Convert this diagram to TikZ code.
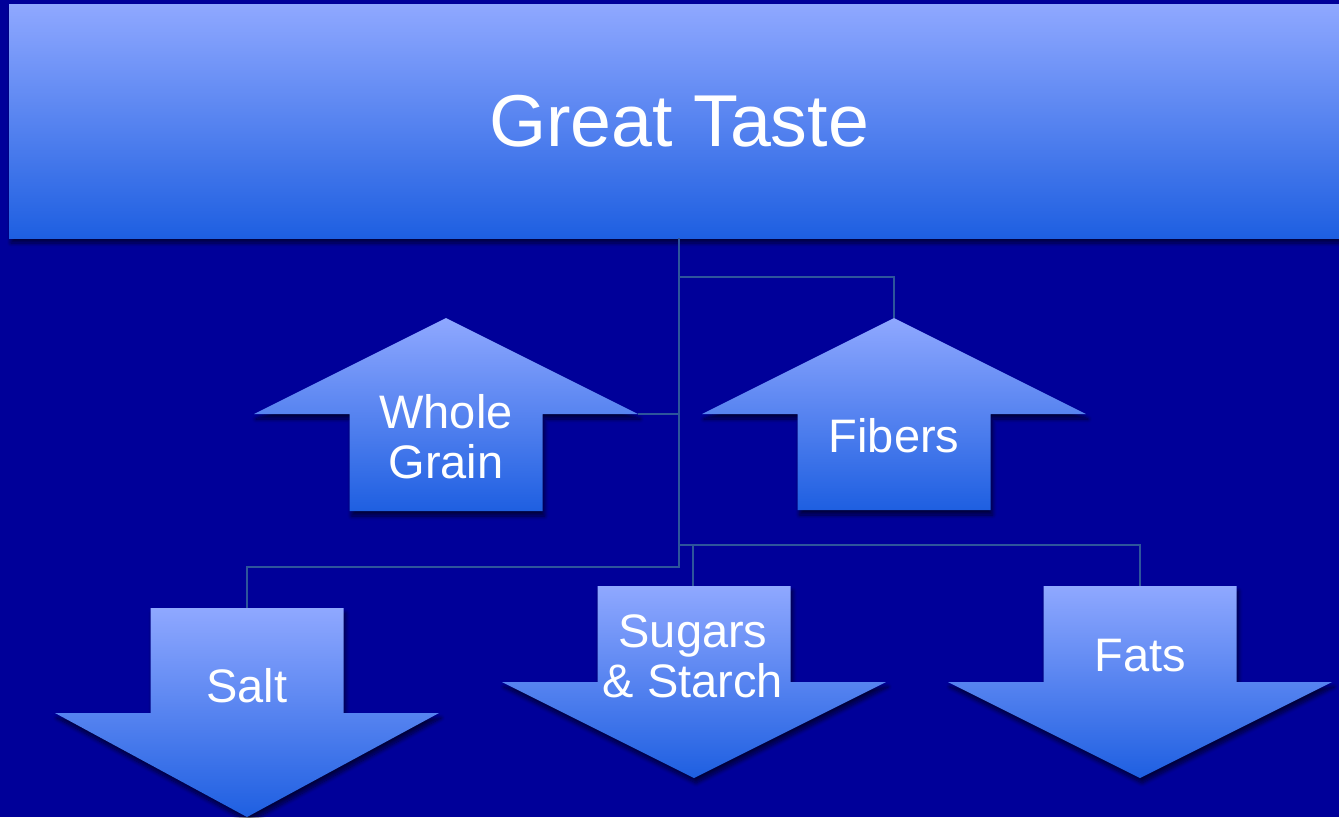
\documentclass[tikz,border=0pt]{standalone}
\usepackage{fontspec}
\setmainfont{Liberation Sans}
\usetikzlibrary{shadows.blur}
\definecolor{bg}{RGB}{0,0,153}
\definecolor{gtop}{RGB}{143,168,255}
\definecolor{gmid}{RGB}{110,142,243}
\definecolor{gbot}{RGB}{30,95,225}
\definecolor{linkc}{RGB}{45,85,155}
\begin{document}
\begin{tikzpicture}[x=1pt,y=-1pt,
  shapefill/.style={top color=gtop,middle color=gmid,bottom color=gbot,draw=none,
    blur shadow={shadow xshift=2pt,shadow yshift=-5pt,shadow blur radius=4pt,shadow blur steps=8,shadow opacity=60}},
  lbl/.style={text=white,font=\fontsize{47}{50}\selectfont,align=center,inner sep=0pt},
  link/.style={draw=linkc,line width=1.5pt}]
\fill[bg] (0,0) rectangle (1339,817);
\useasboundingbox (0,0) rectangle (1339,817);

% title
\node[shapefill,minimum width=1340pt,minimum height=234pt,inner sep=0pt,
  text=white,font=\fontsize{73.5}{86}\selectfont] (title) at (679,121) {Great Taste};

% up arrows
\path[shapefill] (446,318) -- (638,414) -- (542.5,414) -- (542.5,511) -- (349.5,511) -- (349.5,414) -- (254,414) -- cycle;
\path[shapefill] (894,318) -- (1086,414) -- (990.5,414) -- (990.5,510) -- (797.5,510) -- (797.5,414) -- (702,414) -- cycle;

% down arrows
\path[shapefill] (150.5,608) -- (343.5,608) -- (343.5,713) -- (439,713) -- (247,817) -- (55,713) -- (150.5,713) -- cycle;
\path[shapefill] (597.5,586) -- (790.5,586) -- (790.5,682) -- (886,682) -- (694,778) -- (502,682) -- (597.5,682) -- cycle;
\path[shapefill] (1043.5,586) -- (1236.5,586) -- (1236.5,682) -- (1332,682) -- (1140,778) -- (948,682) -- (1043.5,682) -- cycle;

% labels
\node[lbl] (wg) at (446,437) {Whole\\Grain};
\node[lbl] (fb) at (894,436) {Fibers};
\node[lbl] (sa) at (247,686) {Salt};
\node[lbl] (su) at (693,656) {Sugars\\\& Starch};
\node[lbl] (fa) at (1140,656) {Fats};

% connector ends
\coordinate (wgwing) at (638,414);
\coordinate (fbtip) at (894,318);
\coordinate (satop) at (247,608);
\coordinate (sutop) at (693,586);
\coordinate (fatop) at (1140,586);

% connectors
\draw[link] (title.south) -- ++(0,39) -| (fbtip);
\draw[link] (title.south) |- (wgwing);
\draw[link] (title.south) -- ++(0,329) -| (satop);
\draw[link] (title.south) -- ++(0,307) -| (sutop);
\draw[link] (title.south) -- ++(0,307) -| (fatop);
\end{tikzpicture}
\end{document}
